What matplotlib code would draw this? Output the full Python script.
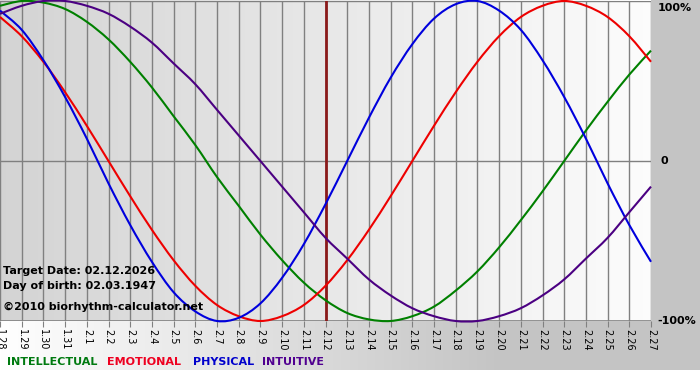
import numpy as np
import matplotlib.pyplot as plt
from matplotlib.path import Path
from matplotlib.patches import PathPatch

# days from 1.28 to 2.27
days = np.arange(31)
tick_labels = ["1.28", "1.29", "1.30", "1.31"] + ["2.%d" % i for i in range(1, 28)]

physical = [0.94, 0.82, 0.63, 0.40, 0.14, -0.14, -0.40, -0.63, -0.82, -0.94, -1.00,
            -0.98, -0.89, -0.73, -0.52, -0.27, 0.00, 0.27, 0.52, 0.73, 0.89, 0.98,
            1.00, 0.94, 0.82, 0.63, 0.40, 0.14, -0.14, -0.40, -0.63]
emotional = [0.90, 0.78, 0.62, 0.43, 0.22, 0.00, -0.22, -0.43, -0.62, -0.78, -0.90,
             -0.97, -1.00, -0.97, -0.90, -0.78, -0.62, -0.43, -0.22, 0.00, 0.22, 0.43,
             0.62, 0.78, 0.90, 0.97, 1.00, 0.97, 0.90, 0.78, 0.62]
intellectual = [0.97, 1.00, 0.99, 0.95, 0.87, 0.76, 0.62, 0.46, 0.28, 0.10, -0.10,
                -0.28, -0.46, -0.62, -0.76, -0.87, -0.95, -0.99, -1.00, -0.97, -0.91,
                -0.81, -0.69, -0.54, -0.37, -0.19, 0.00, 0.19, 0.37, 0.54, 0.69]
intuitive = [0.92, 0.97, 1.00, 1.00, 0.97, 0.92, 0.84, 0.74, 0.61, 0.48, 0.32, 0.16,
             0.00, -0.16, -0.32, -0.48, -0.61, -0.74, -0.84, -0.92, -0.97, -1.00,
             -1.00, -0.97, -0.92, -0.84, -0.74, -0.61, -0.48, -0.32, -0.16]
target_day = 15  # 2.12


def smooth_path(x, y):
    # draw through the points with cubic bezier segments (catmull-rom style)
    p = np.column_stack([x, y]).astype(float)
    ext = np.vstack([p[0], p, p[-1]])
    verts = [p[0]]
    codes = [Path.MOVETO]
    for i in range(len(p) - 1):
        p0, p1, p2, p3 = ext[i], ext[i + 1], ext[i + 2], ext[i + 3]
        verts += [p1 + (p2 - p0) / 6, p2 - (p3 - p1) / 6, p2]
        codes += [Path.CURVE4] * 3
    return Path(verts, codes)


W, H = 700, 380
fig = plt.figure(figsize=(7, 3.8), dpi=100)

# background picture: grey frame, gradients
bg = np.ones((H, W, 3))
bg[:370, :, :] = 0.77
xs = np.linspace(0, 1, W)
bottom = 1.0 - 0.23 * np.clip(xs * 1.4, 0, 1)
bg[321:370, :, :] = bottom[None, :, None]
pw = 651
plot_grad = 0.83 + 0.16 * np.linspace(0, 1, pw)
bg[0:321, :pw, :] = plot_grad[None, :, None]
bga = fig.add_axes([0, 0, 1, 1], zorder=-1)
bga.imshow(bg, aspect="auto", extent=[0, W, H, 0])
bga.axis("off")

ax = fig.add_axes([0, 1 - 321 / H, pw / W, 320 / H])
ax.patch.set_alpha(0)
ax.set_xlim(0, 30)
ax.set_ylim(-1, 1)

for d in days:
    ax.axvline(d, color="#808080", lw=1, zorder=1)
ax.axhline(0, color="#808080", lw=1, zorder=1)
ax.axhline(1, color="#808080", lw=1, zorder=1)
ax.axhline(-1, color="#808080", lw=1.2, zorder=1)
ax.axvline(target_day, color="#8b1a1a", lw=2, zorder=2)

for vals, c in [(intellectual, "#008000"), (emotional, "#ee0000"),
                (physical, "#0000dd"), (intuitive, "#4b0082")]:
    ax.add_patch(PathPatch(smooth_path(days, vals), facecolor="none",
                           edgecolor=c, lw=1.5, zorder=3, clip_on=False))

for s in ax.spines.values():
    s.set_visible(False)
ax.set_yticks([])
ax.set_xticks(days)
ax.set_xticklabels(tick_labels, rotation=-90, fontsize=7, va="top", ha="center")
ax.tick_params(axis="x", length=4, color="#808080", pad=2)

yt = ax.get_yaxis_transform()
ax.text(1.01, 0.985, "100%", transform=yt, fontsize=8, fontweight="bold", va="top", ha="left")
ax.text(1.015, 0, "0", transform=yt, fontsize=8, fontweight="bold", va="center", ha="left")
ax.text(1.01, -1, "-100%", transform=yt, fontsize=8, fontweight="bold", va="center", ha="left")

fig.text(3 / W, 1 - 271 / H, "Target Date: 02.12.2026", fontsize=8, fontweight="bold", va="center")
fig.text(3 / W, 1 - 286 / H, "Day of birth: 02.03.1947", fontsize=8, fontweight="bold", va="center")
fig.text(3 / W, 1 - 307 / H, "\u00a92010 biorhythm-calculator.net", fontsize=8, fontweight="bold", va="center")

for x, name, c in [(7, "INTELLECTUAL", "#007a10"), (107, "EMOTIONAL", "#ee0020"),
                   (193, "PHYSICAL", "#0000cc"), (262, "INTUITIVE", "#500090")]:
    fig.text(x / W, 1 - 362 / H, name, color=c, fontsize=8, fontweight="bold", va="center")

fig.savefig("out.png", dpi=100)
